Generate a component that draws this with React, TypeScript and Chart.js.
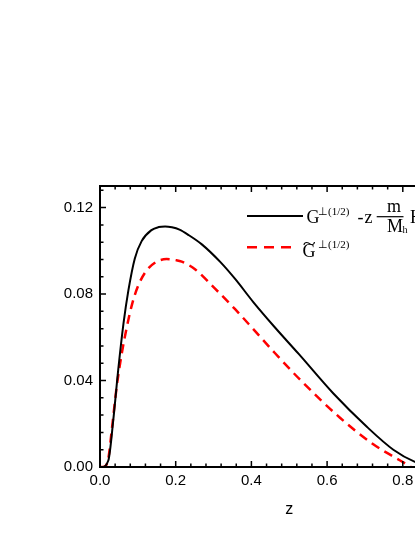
import React, { useEffect, useRef } from "react";
import { Chart, registerables } from "chart.js";

Chart.register(...registerables);

// ---- data ----
const zBlack = [0, 0.004, 0.022, 0.035, 0.048, 0.062, 0.075, 0.092, 0.11, 0.136, 0.155, 0.172, 0.19, 0.21, 0.235, 0.269, 0.317, 0.357, 0.405, 0.46, 0.525, 0.616, 0.705, 0.775, 0.832, 0.87, 0.9];
const gBlack = [0, 0, 0.003, 0.0216, 0.0447, 0.0663, 0.0817, 0.0965, 0.1045, 0.1096, 0.111, 0.1113, 0.1109, 0.1098, 0.1072, 0.103, 0.095, 0.087, 0.0763, 0.065, 0.0523, 0.0341, 0.0186, 0.008, 0.0024, 0.0006, 0];
const zRed = [0, 0.009, 0.022, 0.031, 0.044, 0.057, 0.07, 0.085, 0.1, 0.12, 0.145, 0.176, 0.2, 0.216, 0.251, 0.304, 0.357, 0.405, 0.458, 0.528, 0.634, 0.722, 0.793, 0.822];
const gRed = [0, 0, 0.004, 0.017, 0.037, 0.052, 0.064, 0.0755, 0.0835, 0.0902, 0.0945, 0.0962, 0.0957, 0.095, 0.0915, 0.0825, 0.073, 0.0638, 0.0535, 0.0405, 0.0228, 0.0105, 0.003, 0];

const xTicks = [0, 0.2, 0.4, 0.6, 0.8, 1.0];
const yTicks = [0, 0.04, 0.08, 0.12];
const xMinorStep = 0.04;
const yMinorStep = 0.008;
const xTitle = "z";

const framePlugin = {
  id: "frameTicks",
  afterDraw(chart: any) {
    const { ctx, chartArea } = chart;
    const { left, right, top, bottom } = chartArea;
    const xs = chart.scales.x;
    const ys = chart.scales.y;
    ctx.save();
    ctx.strokeStyle = "#000";
    ctx.lineWidth = 1.5;
    const majLen = 6;
    const minLen = 3.5;
    const nx = Math.round((xs.max - xs.min) / xMinorStep);
    for (let i = 0; i <= nx; i++) {
      const v = xs.min + i * xMinorStep;
      const px = xs.getPixelForValue(v);
      const len = i % 5 === 0 ? majLen : minLen;
      ctx.beginPath();
      ctx.moveTo(px, bottom);
      ctx.lineTo(px, bottom - len);
      ctx.moveTo(px, top);
      ctx.lineTo(px, top + len);
      ctx.stroke();
    }
    const ny = Math.floor((ys.max - ys.min) / yMinorStep + 1e-6);
    for (let i = 0; i <= ny; i++) {
      const v = ys.min + i * yMinorStep;
      const py = ys.getPixelForValue(v);
      const len = i % 5 === 0 ? majLen : minLen;
      ctx.beginPath();
      ctx.moveTo(left, py);
      ctx.lineTo(left + len, py);
      ctx.moveTo(right, py);
      ctx.lineTo(right - len, py);
      ctx.stroke();
    }
    ctx.lineWidth = 2;
    ctx.strokeRect(left, top, right - left, bottom - top);

    // legend
    const serif = "'Liberation Serif', 'Times New Roman', serif";
    ctx.textBaseline = "alphabetic";
    ctx.textAlign = "left";
    ctx.setLineDash([]);
    ctx.strokeStyle = "#000";
    ctx.lineWidth = 2;
    ctx.beginPath();
    ctx.moveTo(247, 216);
    ctx.lineTo(303, 216);
    ctx.stroke();
    ctx.fillStyle = "#000";
    ctx.font = `18px ${serif}`;
    ctx.fillText("G", 306.5, 223.3);
    ctx.font = `11px ${serif}`;
    ctx.fillText("⊥(1/2)", 318, 215);
    ctx.font = `18px ${serif}`;
    ctx.fillText("-", 357.5, 223.3);
    ctx.fillText("z", 364.5, 223);
    ctx.fillText("m", 387, 211.7);
    ctx.fillText("M", 387, 231.7);
    ctx.fillText("H", 410, 223.3);
    ctx.font = `10px ${serif}`;
    ctx.fillText("h", 402.5, 233);
    ctx.lineWidth = 1.2;
    ctx.beginPath();
    ctx.moveTo(376.7, 216.7);
    ctx.lineTo(403.5, 216.7);
    ctx.stroke();

    ctx.strokeStyle = "#ff0000";
    ctx.lineWidth = 2.5;
    ctx.setLineDash([10, 7]);
    ctx.beginPath();
    ctx.moveTo(247, 247.3);
    ctx.lineTo(292, 247.3);
    ctx.stroke();
    ctx.setLineDash([]);
    ctx.fillStyle = "#000";
    ctx.font = `18px ${serif}`;
    ctx.fillText("G", 302.5, 257.3);
    // tilde accent above the G, stretched to the letter's width
    ctx.save();
    ctx.translate(309.2, 248.5);
    ctx.scale(1.5, 1);
    ctx.font = `16px ${serif}`;
    ctx.textAlign = "center";
    ctx.fillText("~", 0, 0);
    ctx.restore();
    ctx.textAlign = "left";
    ctx.font = `11px ${serif}`;
    ctx.fillText("⊥(1/2)", 318, 248.3);
    ctx.restore();
  },
};

export default function App() {
  const ref = useRef<HTMLCanvasElement | null>(null);
  useEffect(() => {
    if (!ref.current) return;
    const sans = "'Liberation Sans', Arial, sans-serif";
    const chart = new Chart(ref.current, {
      type: "line",
      data: {
        datasets: [
          {
            label: "black",
            data: zBlack.map((z, i) => ({ x: z, y: gBlack[i] })),
            borderColor: "#000",
            borderWidth: 2,
            pointRadius: 0,
            cubicInterpolationMode: "monotone",
            fill: false,
          },
          {
            label: "red",
            data: zRed.map((z, i) => ({ x: z, y: gRed[i] })),
            borderColor: "#ff0000",
            borderWidth: 2.5,
            borderDash: [9, 6],
            pointRadius: 0,
            cubicInterpolationMode: "monotone",
            fill: false,
          },
        ],
      },
      options: {
        responsive: false,
        animation: false,
        devicePixelRatio: 1,
        layout: { padding: { top: 186, right: 51.5, left: 0, bottom: 0 } },
        plugins: { legend: { display: false }, tooltip: { enabled: false } },
        scales: {
          x: {
            type: "linear",
            min: 0,
            max: 1.0,
            grid: { display: false, drawTicks: false },
            border: { display: false },
            afterBuildTicks: (s: any) => {
              s.ticks = xTicks.map((v) => ({ value: v }));
            },
            afterFit: (s: any) => {
              s.height = 70;
            },
            ticks: {
              padding: 5,
              color: "#000",
              font: { family: sans, size: 15 },
              maxRotation: 0,
              autoSkip: false,
              callback: (v: any) => Number(v).toFixed(1),
            },
            title: {
              display: true,
              text: xTitle,
              color: "#000",
              font: { family: sans, size: 16 },
              padding: { top: 0, bottom: 18 },
            },
          },
          y: {
            type: "linear",
            min: 0,
            max: 0.13,
            grid: { display: false, drawTicks: false },
            border: { display: false },
            afterBuildTicks: (s: any) => {
              s.ticks = yTicks.map((v) => ({ value: v }));
            },
            afterFit: (s: any) => {
              s.width = 100;
            },
            ticks: {
              padding: 7,
              color: "#000",
              font: { family: sans, size: 15 },
              autoSkip: false,
              callback: (v: any) => Number(v).toFixed(2),
            },
          },
        },
      },
      plugins: [framePlugin],
    } as any);
    return () => chart.destroy();
  }, []);
  return (
    <div style={{ position: "fixed", left: 0, top: 0, width: 415, height: 537, overflow: "hidden", background: "#fff" }}>
      <canvas ref={ref} width={530} height={537} style={{ display: "block", width: 530, height: 537 }} />
    </div>
  );
}
